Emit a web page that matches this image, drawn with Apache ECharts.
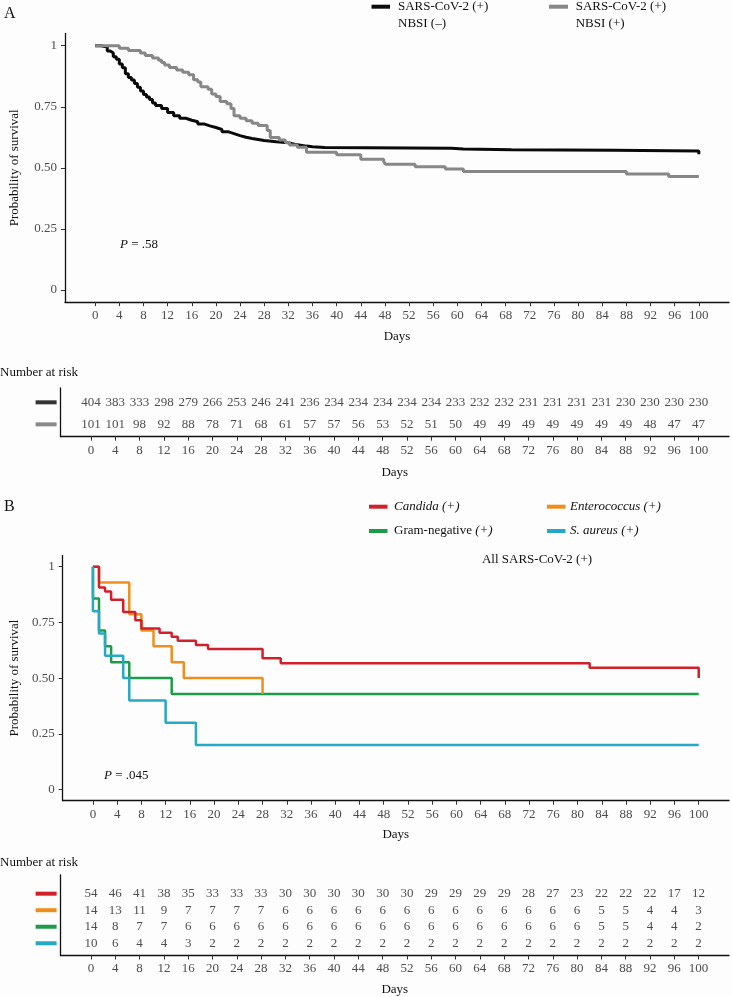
<!DOCTYPE html>
<html>
<head>
<meta charset="utf-8">
<script src="https://cdn.jsdelivr.net/npm/echarts@6/dist/echarts.min.js"></script>
<style>
html,body{margin:0;padding:0;background:#fdfdfd;}
#chart{width:732px;height:997px;}
</style>
</head>
<body>
<div id="chart"></div>
<script>
// ---------- data ----------
const dayTicks = [0,4,8,12,16,20,24,28,32,36,40,44,48,52,56,60,64,68,72,76,80,84,88,92,96,100];
const dayTickLabels = ['0','4','8','12','16','20','24','28','32','36','40','44','48','52','56','60','64','68','72','76','80','84','88','92','96','100'];
const survTicks = [0,0.25,0.5,0.75,1];
const survTickLabels = ['0','0.25','0.50','0.75','1'];

const namesA = ['SARS-CoV-2 (+)\nNBSI (–)','SARS-CoV-2 (+)\nNBSI (+)'];
const nbsiNeg = [[0,1],[1,0.995],[2,0.978],[2.5,0.97],[3,0.955],[3.5,0.945],[4,0.925],[4.5,0.91],[5,0.885],[5.5,0.87],[6,0.86],[6.5,0.845],[7,0.83],[7.5,0.815],[8,0.8],[8.5,0.79],[9,0.78],[9.5,0.765],[10,0.755],[11,0.743],[12,0.727],[13,0.713],[14,0.703],[15,0.695],[16,0.689],[17,0.68],[18,0.672],[19,0.665],[20,0.657],[21,0.648],[22,0.64],[23,0.632],[24,0.625],[25,0.62],[26,0.616],[27,0.612],[28,0.607],[30,0.603],[32,0.597],[33,0.593],[34,0.589],[35,0.586],[36,0.583],[38,0.58],[59,0.577],[61,0.574],[69,0.572],[86,0.569],[100,0.569],[100,0.556]];
const nbsiPos = [[0,1],[4,0.99],[5.5,0.98],[7.5,0.97],[8.3,0.96],[9.5,0.95],[10.5,0.941],[11,0.931],[11.5,0.921],[12.3,0.911],[13.5,0.901],[14.5,0.891],[15.5,0.881],[16.3,0.861],[17,0.851],[17.5,0.832],[18.7,0.822],[19.3,0.802],[20,0.792],[20.7,0.772],[21.8,0.762],[22.5,0.743],[23,0.713],[24,0.703],[25,0.693],[26,0.683],[27,0.673],[28.5,0.653],[29,0.624],[30.5,0.614],[31.5,0.604],[32.2,0.594],[33.5,0.584],[35,0.564],[40,0.554],[44,0.535],[47.8,0.525],[48.1,0.515],[53,0.505],[58,0.495],[61,0.485],[88,0.475],[95,0.465],[100,0.465]];
const riskNeg = [404,383,333,298,279,266,253,246,241,236,234,234,234,234,234,233,232,232,231,231,231,231,230,230,230,230];
const riskPos = [101,101,98,92,88,78,71,68,61,57,57,56,53,52,51,50,49,49,49,49,49,49,49,48,47,47];

const namesB = ['Candida (+)','Enterococcus (+)','Gram-negative (+)','S. aureus (+)'];
const candida = [[0,1],[1,0.907],[2,0.889],[3,0.852],[5,0.796],[7,0.759],[8,0.722],[11,0.704],[13,0.685],[14,0.667],[17,0.648],[19,0.63],[28,0.589],[31,0.567],[82,0.546],[100,0.546],[100,0.5]];
const enterococcus = [[0,1],[1,0.929],[6,0.786],[8,0.714],[10,0.643],[13,0.571],[15,0.5],[28,0.429]];
const gramNeg = [[0,1],[0,0.857],[1,0.714],[2,0.643],[3,0.571],[6,0.5],[13,0.429],[100,0.429]];
const sAureus = [[0,1],[0,0.8],[1,0.7],[2,0.6],[5,0.5],[6,0.4],[12,0.3],[17,0.2],[100,0.2]];
const riskCandida = [54,46,41,38,35,33,33,33,30,30,30,30,30,30,29,29,29,29,28,27,23,22,22,22,17,12];
const riskEntero = [14,13,11,9,7,7,7,7,6,6,6,6,6,6,6,6,6,6,6,6,6,5,5,4,4,3];
const riskGram = [14,8,7,7,6,6,6,6,6,6,6,6,6,6,6,6,6,6,6,6,6,5,5,4,4,2];
const riskSAureus = [10,6,4,4,3,2,2,2,2,2,2,2,2,2,2,2,2,2,2,2,2,2,2,2,2,2];

// ---------- style ----------
const FONT = "'Liberation Serif','DejaVu Serif',serif";
const colA = ['#0a0a0a','#878787'];
const colATable = ['#333333','#8a8a8a'];
const colB = ['#D0202A','#EE8E1C','#1E9B48','#27A9C6'];
const tickColor = '#4d4d4d';

function xAxisCfg(gridIndex, gap){
  return {
    type:'value', gridIndex, min:-5, max:105,
    axisLine:{show:true,onZero:false,lineStyle:{color:'#111',width:1.3}},
    axisTick:{show:true,customValues:dayTicks,length:4,lineStyle:{color:'#333'}},
    axisLabel:{customValues:dayTicks,margin:7,fontSize:13,color:tickColor,fontFamily:FONT,
      formatter:v=>dayTickLabels[dayTicks.indexOf(v)]},
    splitLine:{show:false},
    name:'Days', nameLocation:'middle', nameGap:gap,
    nameTextStyle:{fontSize:13,color:'#111',fontFamily:FONT}
  };
}
function yAxisSurv(gridIndex, gap){
  return {
    type:'value', gridIndex, min:-0.05, max:1.05,
    axisLine:{show:true,onZero:false,lineStyle:{color:'#111',width:1.3}},
    axisTick:{show:true,customValues:survTicks,length:4,lineStyle:{color:'#333'}},
    axisLabel:{customValues:survTicks,margin:8,fontSize:13,color:tickColor,fontFamily:FONT,
      formatter:v=>survTickLabels[survTicks.indexOf(v)]},
    splitLine:{show:false},
    name:'Probability of survival', nameLocation:'middle', nameGap:gap, nameRotate:90,
    nameTextStyle:{fontSize:13,color:'#111',fontFamily:FONT}
  };
}
function yAxisTable(gridIndex, min, max, colors){
  const rows = colors.map((c,i)=>i+1);
  const rich = {};
  colors.forEach((c,i)=>{ rich['r'+i] = {width:21,height:4,backgroundColor:c}; });
  return {
    type:'value', gridIndex, min, max, inverse:true,
    axisLine:{show:true,onZero:false,lineStyle:{color:'#111',width:1.3}},
    axisTick:{show:false},
    axisLabel:{customValues:rows,margin:4,formatter:v=>'{r'+(v-1)+'| }',rich},
    splitLine:{show:false}
  };
}
function stepLine(name, data, color, xi, width){
  return {type:'line', name, data, step:'end', xAxisIndex:xi, yAxisIndex:xi,
    symbol:'none', showSymbol:false, lineStyle:{color, width}, itemStyle:{color}, silent:true};
}
function riskRow(risk, row, xi){
  return {type:'scatter', xAxisIndex:xi, yAxisIndex:xi, symbolSize:1,
    itemStyle:{color:'rgba(0,0,0,0)'}, silent:true,
    data: dayTicks.map((d,i)=>[d,row,risk[i]]),
    label:{show:true,position:'inside',formatter:p=>String(p.value[2]),fontSize:13,color:'#222',fontFamily:FONT}};
}

function txt(x,y,text,opts){
  return Object.assign({type:'text',x,y,silent:true,style:Object.assign({text,font:'13px '+FONT,fill:'#111',align:'left',verticalAlign:'middle'},opts||{})});
}
function dash(x,y,w,color){
  return {type:'rect',silent:true,shape:{x,y:y-2,width:w,height:4},style:{fill:color}};
}

const option = {
  backgroundColor:'#fdfdfd',
  animation:false,
  grid:[
    {left:60.6,top:33.5,width:668.4,height:268.7},
    {left:60.6,top:388,width:668.4,height:48.7},
    {left:60.6,top:555.5,width:668.4,height:245.2},
    {left:60.6,top:875,width:668.4,height:81.7}
  ],
  xAxis:[xAxisCfg(0,27.5),xAxisCfg(1,29),xAxisCfg(2,27.5),xAxisCfg(3,27.5)],
  yAxis:[yAxisSurv(0,44),yAxisTable(1,0.35,2.56,colATable),yAxisSurv(2,40),yAxisTable(3,-0.13,4.74,colB)],
  series:[
    stepLine(namesA[0],nbsiNeg,colA[0],0,3),
    stepLine(namesA[1],nbsiPos,colA[1],0,3),
    riskRow(riskNeg,1,1), riskRow(riskPos,2,1),
    stepLine(namesB[2],gramNeg,colB[2],2,2.5),
    stepLine(namesB[1],enterococcus,colB[1],2,2.5),
    stepLine(namesB[0],candida,colB[0],2,2.5),
    stepLine(namesB[3],sAureus,colB[3],2,2.5),
    riskRow(riskCandida,1,3), riskRow(riskEntero,2,3), riskRow(riskGram,3,3), riskRow(riskSAureus,4,3)
  ],
  graphic:[
    txt(4,13.5,'A',{font:'16px '+FONT}),
    dash(371.5,6.7,18.5,colA[0]),
    txt(398,-1.6,namesA[0],{verticalAlign:'top',lineHeight:16.6}),
    dash(549,6.7,19,colA[1]),
    txt(575.7,-1.6,namesA[1],{verticalAlign:'top',lineHeight:16.6}),
    txt(120,245,'{i|P} = .58',{rich:{i:{fontStyle:'italic',font:'italic 13px '+FONT}}}),
    txt(0,373,'Number at risk'),
    txt(4,507,'B',{font:'16px '+FONT}),
    dash(369,506.7,18.5,colB[0]),
    txt(394,506.7,'{i|'+namesB[0]+'}',{rich:{i:{font:'italic 13px '+FONT}}}),
    dash(547,506.7,18.5,colB[1]),
    txt(570,506.7,'{i|'+namesB[1]+'}',{rich:{i:{font:'italic 13px '+FONT}}}),
    dash(369,531,18.5,colB[2]),
    txt(394,531,'Gram-negative {i|(+)}',{rich:{i:{font:'italic 13px '+FONT}}}),
    dash(547,531,18.5,colB[3]),
    txt(570,531,'{i|'+namesB[3]+'}',{rich:{i:{font:'italic 13px '+FONT}}}),
    txt(537,560,'All SARS-CoV-2 (+)',{align:'center'}),
    txt(104,776,'{i|P} = .045',{rich:{i:{font:'italic 13px '+FONT}}}),
    txt(0,862.7,'Number at risk')
  ]
};
const chart = echarts.init(document.getElementById('chart'),null,{renderer:'canvas'});
chart.setOption(option);
</script>
</body>
</html>
